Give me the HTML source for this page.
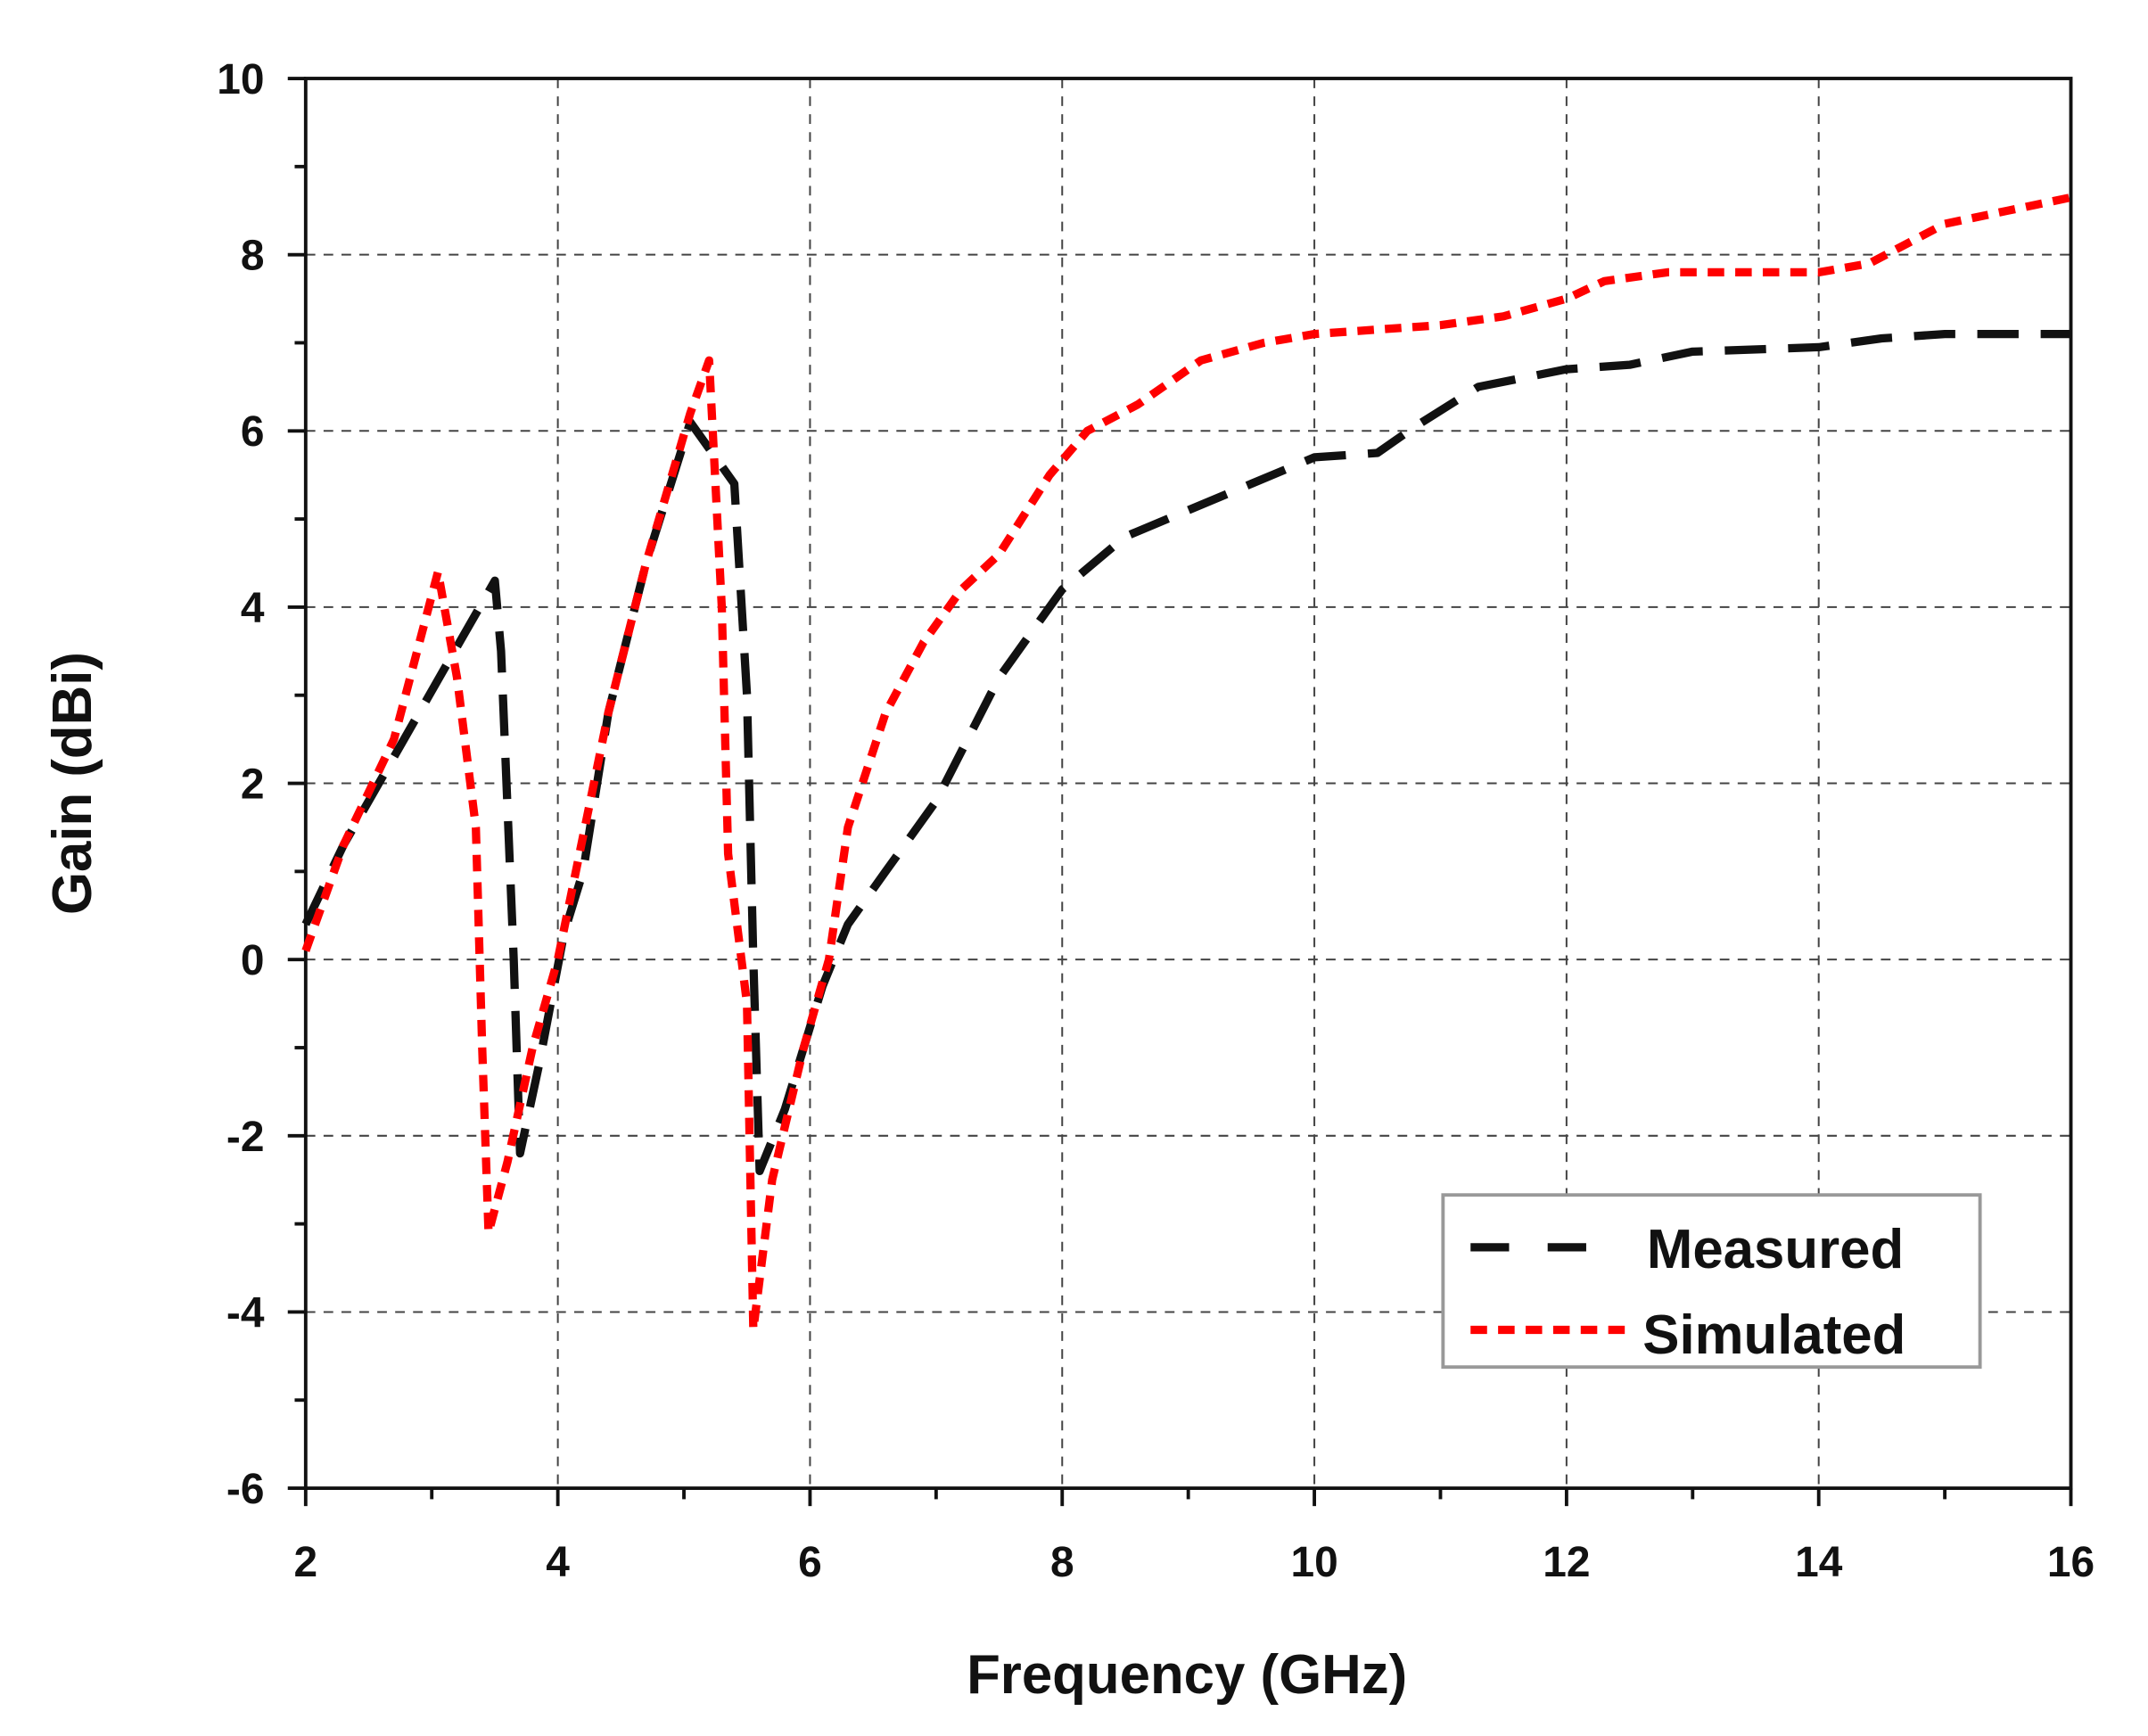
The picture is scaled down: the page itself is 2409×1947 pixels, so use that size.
<!DOCTYPE html>
<html><head><meta charset="utf-8"><style>
html,body{margin:0;padding:0;background:#fff;}
svg{display:block;}
text{font-family:"Liberation Sans",Arial,sans-serif;font-weight:bold;fill:#111;}
</style></head><body>
<svg id="s" width="2409" height="1947" viewBox="0 0 1560 1261" preserveAspectRatio="none" xmlns="http://www.w3.org/2000/svg">
<rect width="1560" height="1261" fill="#fff"/>
<g id="grid" stroke="#444" stroke-width="1.3" stroke-dasharray="7,6"></g>
<g id="ticks" stroke="#111" stroke-width="2.5"></g>
<rect x="222" y="57" width="1282" height="1024" fill="none" stroke="#111" stroke-width="2.5"/>
<g id="labels" font-size="31"></g>
<polyline id="meas" fill="none" stroke="#111" stroke-width="6" stroke-dasharray="30,16" stroke-linejoin="round"/>
<polyline id="sim" fill="none" stroke="#f00" stroke-width="6" stroke-dasharray="12,8" stroke-linejoin="round"/>
<rect x="1048" y="868" width="390" height="125" fill="#fff" stroke="#999" stroke-width="2.5"/>
<line x1="1068" y1="906" x2="1180" y2="906" stroke="#111" stroke-width="6" stroke-dasharray="28,28"/>
<line x1="1068" y1="966" x2="1186" y2="966" stroke="#f00" stroke-width="6" stroke-dasharray="12,8"/>
<text x="1196" y="921" font-size="40">Measured</text>
<text x="1193" y="983" font-size="40">Simulated</text>
<text x="862" y="1230" font-size="40" text-anchor="middle">Frequency (GHz)</text>
<text transform="translate(66,569) rotate(-90)" font-size="40" text-anchor="middle">Gain (dBi)</text>
</svg>
<script>
var NS="http://www.w3.org/2000/svg";
function X(f){return 222+(f-2)*91.571;}
function Y(g){return 697-g*64;}
function el(p,t,a){var e=document.createElementNS(NS,t);for(var k in a)e.setAttribute(k,a[k]);p.appendChild(e);return e;}
var grid=document.getElementById('grid'),ticks=document.getElementById('ticks'),lab=document.getElementById('labels');
for(var f=4;f<16;f+=2){el(grid,'line',{x1:X(f),x2:X(f),y1:57,y2:1081});}
for(var g=-4;g<=8;g+=2){el(grid,'line',{x1:222,x2:1504,y1:Y(g),y2:Y(g)});}
for(var f=2;f<=16;f++){var mj=f%2==0;el(ticks,'line',{x1:X(f),x2:X(f),y1:1081,y2:1081+(mj?13:8)});
 if(mj){var t=el(lab,'text',{x:X(f),y:1145,'text-anchor':'middle'});t.textContent=f;}}
for(var g=-6;g<=10;g++){var mj=(g%2==0);el(ticks,'line',{x1:222-(mj?13:8),x2:222,y1:Y(g),y2:Y(g)});
 if(mj){var t=el(lab,'text',{x:192,y:Y(g)+11,'text-anchor':'end'});t.textContent=g;}}
var M=[[2,0.4],[2.3,1.3],[2.7,2.3],[3.1,3.3],[3.5,4.3],[3.55,3.5],[3.65,0],[3.7,-2.2],[3.85,-1.2],[4.05,0.3],[4.2,1],[4.4,2.8],[4.7,4.5],[5.05,6.1],[5.4,5.4],[5.5,3],[5.55,0],[5.6,-2.4],[5.8,-1.7],[6.1,-0.3],[6.3,0.4],[6.6,1],[7,1.8],[7.5,3.2],[8,4.2],[8.5,4.8],[9,5.1],[9.5,5.4],[10,5.7],[10.5,5.75],[10.8,6.05],[11.3,6.5],[12,6.7],[12.5,6.75],[13,6.9],[14,6.95],[14.5,7.05],[15,7.1],[16,7.1]];
var S=[[2,0.1],[2.3,1.3],[2.7,2.5],[3.05,4.4],[3.2,3.2],[3.35,1.5],[3.4,-1],[3.45,-3.1],[3.6,-2.3],[3.8,-1],[4,0],[4.1,0.7],[4.4,2.8],[4.7,4.5],[5.05,6.2],[5.2,6.8],[5.3,4],[5.35,1.2],[5.5,-0.5],[5.55,-4.2],[5.7,-2.5],[5.95,-1],[6.15,0],[6.3,1.5],[6.6,2.8],[6.9,3.6],[7.2,4.2],[7.5,4.6],[7.9,5.5],[8.2,6],[8.6,6.3],[9.1,6.8],[9.6,7],[10,7.1],[10.5,7.15],[11,7.2],[11.5,7.3],[12,7.5],[12.3,7.7],[12.8,7.8],[13.5,7.8],[14,7.8],[14.4,7.9],[15,8.35],[15.5,8.5],[16,8.65]];
function pts(a){return a.map(function(p){return X(p[0]).toFixed(1)+','+Y(p[1]).toFixed(1);}).join(' ');}
document.getElementById('meas').setAttribute('points',pts(M));
document.getElementById('sim').setAttribute('points',pts(S));
</script>
</body></html>
